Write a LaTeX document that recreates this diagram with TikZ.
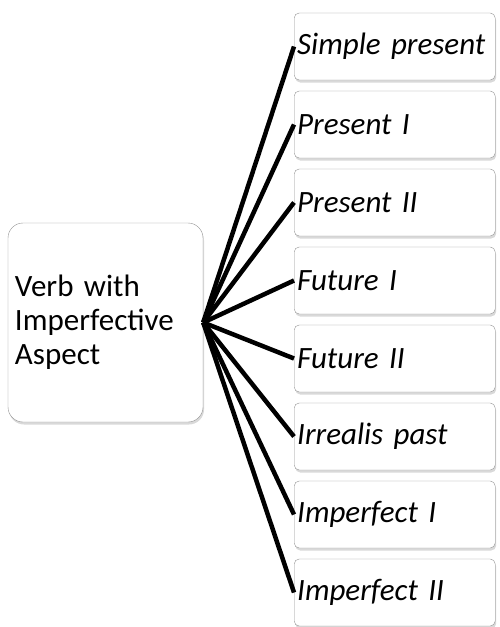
\documentclass[tikz,border=0pt]{standalone}
\usepackage{fontspec}
\setmainfont{Carlito}
\usetikzlibrary{shadows}
\newcommand{\boxfont}{\fontsize{31}{34}\selectfont\spaceskip=.17em\relax}

\begin{document}
\begin{tikzpicture}[x=1pt, y=-1pt,
                    rootbox/.style={draw=gray!85, fill=white, rounded corners=15pt,
                                    minimum width=195pt, minimum height=199pt,
                                    text width=181pt, inner xsep=7pt, align=left,
                                    font=\boxfont,
                                    drop shadow={shadow xshift=1pt, shadow yshift=-2.5pt, opacity=0.3}},
                    leafbox/.style={draw=gray!85, fill=white, rounded corners=5pt, anchor=west,
                                    minimum width=201pt, minimum height=67pt,
                                    text width=195pt, inner xsep=3pt, align=left,
                                    font=\itshape\boxfont,
                                    drop shadow={shadow xshift=1pt, shadow yshift=-2.5pt, opacity=0.3}},
                    link/.style={line width=4.5pt, black},
                   ]

\useasboundingbox (0,0) rectangle (499,627);

\node[rootbox] (verb) at (105.5,322.5) {Verb with\\ Imperfective\\ Aspect};

\node[leafbox] (simple)  at (294,46.5)  {Simple present};
\node[leafbox] (presI)   at (294,124.5) {Present I};
\node[leafbox] (presII)  at (294,202.5) {Present II};
\node[leafbox] (futI)    at (294,280.5) {Future I};
\node[leafbox] (futII)   at (294,358.5) {Future II};
\node[leafbox] (irreal)  at (294,436.5) {Irrealis past};
\node[leafbox] (imperfI) at (294,514.5) {Imperfect I};
\node[leafbox] (imperfII) at (294,592.5) {Imperfect II};

\draw[link] (verb.east) -- (simple.west);
\draw[link] (verb.east) -- (presI.west);
\draw[link] (verb.east) -- (presII.west);
\draw[link] (verb.east) -- (futI.west);
\draw[link] (verb.east) -- (futII.west);
\draw[link] (verb.east) -- (irreal.west);
\draw[link] (verb.east) -- (imperfI.west);
\draw[link] (verb.east) -- (imperfII.west);

\end{tikzpicture}
\end{document}
